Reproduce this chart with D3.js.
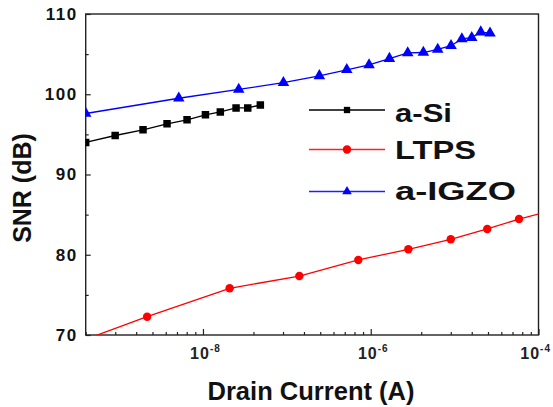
<!DOCTYPE html>
<html>
<head>
<meta charset="utf-8">
<script src="https://cdn.jsdelivr.net/npm/d3@7"></script>
<style>
  body { margin: 0; background: #fff; }
  svg { display: block; font-family: "Liberation Sans", Arial, sans-serif; }
</style>
</head>
<body>
<svg id="chart" width="553" height="407"></svg>
<script>
// values
const aSiCurrent = [4e-10, 8.98e-10, 1.93e-9, 3.73e-9, 6.46e-9, 1.07e-8, 1.61e-8, 2.48e-8, 3.42e-8, 4.83e-8];
const aSiSNR = [93.99, 94.86, 95.57, 96.32, 96.82, 97.44, 97.79, 98.29, 98.29, 98.66];

const ltpsCurrent = [1.39e-10, 2.16e-9, 2.08e-8, 1.41e-7, 7.11e-7, 2.81e-6, 9.0e-6, 2.45e-5, 5.86e-5, 1.45e-4];
const ltpsSNR = [67.7, 72.28, 75.82, 77.35, 79.35, 80.68, 81.93, 83.21, 84.45, 85.51];

const igzoCurrent = [4e-10, 5.15e-9, 2.67e-8, 9.1e-8, 2.44e-7, 5.18e-7, 9.55e-7, 1.67e-6, 2.76e-6, 4.24e-6,
                     6.29e-6, 9.06e-6, 1.22e-5, 1.6e-5, 2.05e-5, 2.64e-5];
const igzoSNR = [97.6, 99.5, 100.6, 101.45, 102.3, 103.05, 103.65, 104.45, 105.15, 105.2,
                 105.6, 106.05, 106.9, 107.05, 107.75, 107.6];

const xMajorTicks = [1e-8, 1e-6, 1e-4];
const xMajorExp = ["-8", "-6", "-4"];
const xMinorSquares = [4, 9, 16, 25, 36, 49, 64, 81];
const yMajorTicks = [70, 80, 90, 100, 110];
const yMinorTicks = [75, 85, 95, 105];

const seriesNames = ["a-Si", "LTPS", "a-IGZO"];

const svg = d3.select("#chart");
const plotL = 85.7, plotR = 538.5, plotT = 14, plotB = 335;

const x = d3.scaleLog().domain([4e-10, 1e-4]).range([plotL, plotR]);
const y = d3.scaleLinear().domain([70, 110]).range([plotB, plotT]);

// minor x ticks: Origin spreads the k^2 pattern over each 2-decade step
const xMinor = [];
[-10, -8, -6].forEach(m => xMinorSquares.forEach(k => {
  const v = Math.pow(10, m) * k;
  if (v >= 4e-10 && v < 1e-4) xMinor.push(v);
}));

svg.append("defs").append("clipPath").attr("id", "plotclip")
  .append("rect").attr("x", plotL).attr("y", plotT)
  .attr("width", plotR - plotL).attr("height", plotB - plotT);

// axes
const xAxis = svg.append("g").attr("transform", `translate(0,${plotB})`)
  .call(d3.axisBottom(x).tickValues(xMinor).tickSizeInner(-3).tickSizeOuter(0).tickFormat(""));
xAxis.select(".domain").remove();
const xAxisMaj = svg.append("g").attr("transform", `translate(0,${plotB})`)
  .call(d3.axisBottom(x).tickValues(xMajorTicks).tickSizeInner(-6).tickSizeOuter(0).tickPadding(13)
    .tickFormat(() => ""));
xAxisMaj.select(".domain").remove();
xAxisMaj.selectAll(".tick text")
  .attr("font-size", 16).attr("font-weight", "bold").attr("font-family", "Liberation Sans, Arial, sans-serif")
  .attr("fill", "#222").attr("letter-spacing", 1)
  .attr("text-anchor", (d, i) => i === xMajorTicks.length - 1 ? "end" : "middle")
  .attr("x", (d, i) => i === xMajorTicks.length - 1 ? 12 : 2)
  .each(function (d, i) {
    const t = d3.select(this);
    t.append("tspan").text("10");
    t.append("tspan").attr("font-size", 10).attr("dy", -7).text(xMajorExp[i]);
  });

const yAxis = svg.append("g").attr("transform", `translate(${plotL},0)`)
  .call(d3.axisLeft(y).tickValues(yMinorTicks).tickSizeInner(-3).tickSizeOuter(0).tickFormat(""));
yAxis.select(".domain").remove();
const yAxisMaj = svg.append("g").attr("transform", `translate(${plotL},0)`)
  .call(d3.axisLeft(y).tickValues(yMajorTicks).tickSizeInner(-5).tickSizeOuter(0).tickPadding(8));
yAxisMaj.select(".domain").remove();
yAxisMaj.selectAll(".tick text")
  .attr("font-size", 17).attr("font-weight", "bold").attr("letter-spacing", 1.5)
  .attr("font-family", "Liberation Sans, Arial, sans-serif").attr("fill", "#111");

svg.selectAll(".tick line").attr("stroke", "#222").attr("stroke-width", 1.2);

// frame
svg.append("rect").attr("x", plotL).attr("y", plotT)
  .attr("width", plotR - plotL).attr("height", plotB - plotT)
  .attr("fill", "none").attr("stroke", "#222").attr("stroke-width", 1.4);

// series
const plot = svg.append("g").attr("clip-path", "url(#plotclip)");
const line = d3.line().x(d => x(d[0])).y(d => y(d[1]));

function drawSeries(xs, ys, color, shape) {
  const pts = xs.map((v, i) => [v, ys[i]]);
  plot.append("path").datum(pts).attr("d", line)
    .attr("fill", "none").attr("stroke", color).attr("stroke-width", 1.3);
  plot.append("g").selectAll("path").data(pts).join("path")
    .attr("transform", d => `translate(${x(d[0])},${y(d[1])})`)
    .attr("d", d3.symbol().type(shape).size(shape === d3.symbolTriangle ? 58 : 56))
    .attr("fill", color);
}

drawSeries(aSiCurrent, aSiSNR, "#000", d3.symbolSquare);
drawSeries(ltpsCurrent, ltpsSNR, "#ff0000", d3.symbolCircle);
drawSeries(igzoCurrent, igzoSNR, "#0000ff", d3.symbolTriangle);

// legend
const legendLine = ["#000", "#ff2020", "#2020ff"];
const legendFill = ["#000", "#ff0000", "#0000ff"];
const legendShapes = [d3.symbolSquare, d3.symbolCircle, d3.symbolTriangle];
const legendRowY = [110, 149.5, 191.5];
const legendBase = [122, 158.5, 200];
const legendWidths = [57, 81, 121];
const legend = svg.append("g");
seriesNames.forEach((name, i) => {
  legend.append("line").attr("x1", 309).attr("x2", 385)
    .attr("y1", legendRowY[i]).attr("y2", legendRowY[i])
    .attr("stroke", legendLine[i]).attr("stroke-width", 1.3);
  legend.append("path").attr("transform", `translate(347,${legendRowY[i]})`)
    .attr("d", d3.symbol().type(legendShapes[i]).size(i === 1 ? 56 : 40)).attr("fill", legendFill[i]);
  legend.append("text").attr("x", 395).attr("y", legendBase[i]).attr("font-size", 25).attr("font-weight", "bold")
    .attr("textLength", legendWidths[i]).attr("lengthAdjust", "spacingAndGlyphs")
    .attr("fill", "#111").text(name);
});

// axis titles
svg.append("text").attr("x", 311).attr("y", 400).attr("text-anchor", "middle")
  .attr("font-size", 25).attr("font-weight", "bold").attr("fill", "#111")
  .attr("textLength", 207).attr("lengthAdjust", "spacingAndGlyphs")
  .text("Drain Current (A)");
svg.append("text").attr("transform", "translate(31,188) rotate(-90)").attr("text-anchor", "middle")
  .attr("font-size", 25).attr("font-weight", "bold").attr("fill", "#111")
  .text("SNR (dB)");
</script>
</body>
</html>
